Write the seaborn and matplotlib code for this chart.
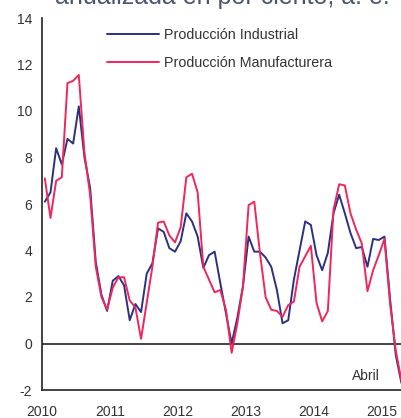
import numpy as np
import pandas as pd
import matplotlib
matplotlib.use("Agg")
import matplotlib.pyplot as plt
import seaborn as sns

# ---- data (monthly, Jan 2010 .. Apr 2015) ----
start_year = 2010
industrial = [6.1, 6.5, 8.4, 7.7, 8.8, 8.6, 10.2, 8.0, 6.7, 3.5, 2.1, 1.4,
              2.7, 2.9, 2.5, 1.0, 1.7, 1.35, 3.0, 3.45, 4.95, 4.8, 4.1, 3.95,
              4.4, 5.6, 5.25, 4.6, 3.25, 3.8, 3.95, 2.6, 1.3, 0.0, 1.1, 2.45,
              4.6, 3.95, 3.95, 3.7, 3.3, 2.3, 0.87, 1.0, 2.75, 4.0, 5.25, 5.1,
              3.8, 3.15, 3.9, 5.6, 6.4, 5.6, 4.75, 4.1, 4.15, 3.3, 4.5, 4.45,
              4.6, 1.9, -0.5, -1.7]
manufacturera = [7.1, 5.4, 7.0, 7.15, 11.2, 11.3, 11.55, 8.2, 6.4, 3.3, 2.0, 1.45,
                 2.4, 2.85, 2.85, 1.85, 1.55, 0.2, 1.75, 3.3, 5.2, 5.25, 4.65, 4.35,
                 5.0, 7.15, 7.3, 6.5, 3.3, 2.75, 2.2, 2.3, 1.45, -0.4, 0.85, 2.45,
                 5.95, 6.1, 3.9, 2.0, 1.45, 1.4, 1.15, 1.65, 1.8, 3.3, 3.75, 4.2,
                 1.75, 0.95, 1.4, 5.75, 6.85, 6.8, 5.6, 4.9, 4.3, 2.25, 3.15, 3.8,
                 4.5, 1.7, -0.3, -1.6]
series_names = ["Producción Industrial", "Producción Manufacturera"]
year_ticks = [2010, 2011, 2012, 2013, 2014, 2015]
y_ticks = [-2, 0, 2, 4, 6, 8, 10, 12, 14]
title_text = "anualizada en por ciento, a. e."
note_text = "Abril"

months = np.arange(len(industrial))
xpos = start_year + (months + 0.5) / 12.0
df = pd.DataFrame({
    "t": np.concatenate([xpos, xpos]),
    "v": industrial + manufacturera,
    "serie": [series_names[0]] * len(industrial) + [series_names[1]] * len(manufacturera),
})

sns.set_style("white")
plt.rcParams["font.family"] = ["Liberation Sans", "DejaVu Sans"]

fig = plt.figure(figsize=(4.01, 4.18), dpi=100)
ax = fig.add_axes([42 / 401, 28 / 418, 360 / 401, 372 / 418])

palette = {series_names[0]: "#2c3080", series_names[1]: "#f0265c"}
sns.lineplot(data=df, x="t", y="v", hue="serie", palette=palette,
             linewidth=1.4, ax=ax, legend=True)

ax.axhline(0, color="#222222", linewidth=1.2, zorder=1)

ax.set_xlim(2010, 2015.3)
ax.set_ylim(-2, 14)
ax.set_xticks(year_ticks)
ax.set_xticklabels([str(y) for y in year_ticks])
ax.set_yticks(y_ticks)
ax.set_yticklabels([str(y) for y in y_ticks])
ax.set_xlabel("")
ax.set_ylabel("")

for s in ["top", "right"]:
    ax.spines[s].set_visible(False)
for s in ["left", "bottom"]:
    ax.spines[s].set_color("#222222")
    ax.spines[s].set_linewidth(1.2)

ax.tick_params(axis="both", which="major", direction="out", length=4, width=1.0,
               color="#222222", labelsize=10, labelcolor="#333333", pad=3)
ax.tick_params(axis="x", pad=7)

ax.text(2014.56, -1.4, note_text, fontsize=10, color="#333333", ha="left", va="center")

handles, labels = ax.get_legend_handles_labels()
ax.legend(handles, labels, loc="upper left", bbox_to_anchor=(100 / 401, 1 - 21 / 418),
          bbox_transform=fig.transFigure, frameon=False, fontsize=10.3,
          handlelength=3.6, handletextpad=0.35, labelspacing=0.95, borderpad=0,
          labelcolor="#333333")

fig.text(55 / 401, 1 - 4 / 418, title_text, fontsize=18, color="#4b5670",
         ha="left", va="baseline")

fig.savefig("out.png", dpi=100)
